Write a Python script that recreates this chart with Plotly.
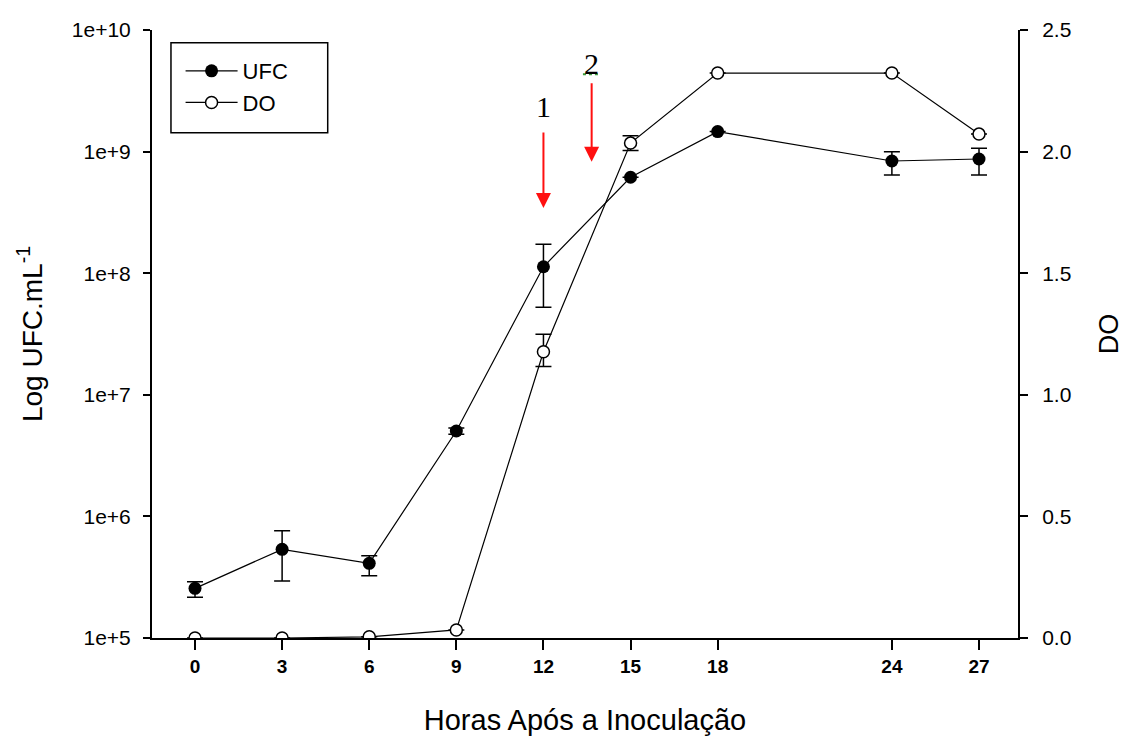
import plotly.graph_objects as go

# ---- data ----
hours = [0, 3, 6, 9, 12, 15, 18, 24, 27]
x_tick_labels = ["0", "3", "6", "9", "12", "15", "18", "24", "27"]

ufc = [2.56e5, 5.36e5, 4.11e5, 5.04e6, 1.13e8, 6.15e8, 1.46e9, 8.37e8, 8.69e8]
ufc_err_plus = [0.34e5, 2.27e5, 0.64e5, 0.3e6, 0.60e8, 0.0, 0.0, 1.61e8, 1.96e8]
ufc_err_minus = [0.40e5, 2.42e5, 0.86e5, 0.3e6, 0.606e8, 0.0, 0.0, 1.95e8, 2.27e8]

do_vals = [0.0, 0.0, 0.005, 0.033, 1.177, 2.035, 2.323, 2.323, 2.072]
do_err_plus = [0.0, 0.0, 0.0, 0.0, 0.072, 0.03, 0.0, 0.0, 0.0]
do_err_minus = [0.0, 0.0, 0.0, 0.0, 0.061, 0.03, 0.0, 0.0, 0.0]

left_tickvals = [1e5, 1e6, 1e7, 1e8, 1e9, 1e10]
left_ticktext = ["1e+5", "1e+6", "1e+7", "1e+8", "1e+9", "1e+10"]
right_tickvals = [0.0, 0.5, 1.0, 1.5, 2.0, 2.5]
right_ticktext = ["0.0", "0.5", "1.0", "1.5", "2.0", "2.5"]

# arrows: (x hour, tip DO-scale, label DO-scale, label)
arrow_x = [12, 13.66]
arrow_tip = [1.768, 1.958]
arrow_label_y = [2.185, 2.363]
arrow_labels = ["1", "2"]
arrow_len_px = [77, 80]

SANS = "Liberation Sans, Arial, sans-serif"

fig = go.Figure()

fig.add_trace(go.Scatter(
    x=hours, y=ufc, name="UFC", mode="lines+markers",
    line=dict(color="black", width=1.2),
    marker=dict(symbol="circle", size=13, color="black"),
    error_y=dict(type="data", symmetric=False, array=ufc_err_plus,
                 arrayminus=ufc_err_minus, color="black", thickness=1.5, width=8),
    yaxis="y", legendgroup="a",
))

fig.add_trace(go.Scatter(
    x=hours, y=do_vals, name="DO", mode="lines+markers",
    line=dict(color="black", width=1.2),
    marker=dict(symbol="circle", size=12, color="white",
                line=dict(color="black", width=1.5)),
    error_y=dict(type="data", symmetric=False, array=do_err_plus,
                 arrayminus=do_err_minus, color="black", thickness=1.5, width=8),
    yaxis="y2", legendgroup="b",
))

annotations = []
for xv, tip, ly, lab, alen in zip(arrow_x, arrow_tip, arrow_label_y, arrow_labels, arrow_len_px):
    annotations.append(dict(
        x=xv, y=tip, xref="x", yref="y2", text="", showarrow=True,
        ax=0, ay=-alen, arrowhead=2, arrowsize=1.5, arrowwidth=2,
        arrowcolor="#ff1010", standoff=0,
    ))
    annotations.append(dict(
        x=xv, y=ly, xref="x", yref="y2", text=lab, showarrow=False,
        font=dict(family="Liberation Serif, Times New Roman, serif", size=30, color="black"),
    ))

shapes = [
    # legend frame
    dict(type="rect", xref="paper", yref="paper",
         x0=0.0219, x1=0.2029, y0=0.831, y1=0.979,
         line=dict(color="black", width=1.5), fillcolor="rgba(0,0,0,0)"),
    # green dotted underline under "2"
    dict(type="line", xref="x", yref="y2", x0=13.36, x1=13.94, y0=2.318, y1=2.318,
         line=dict(color="#3a9a3a", width=2, dash="dot")),
]

fig.update_layout(
    width=1124, height=736, autosize=False,
    margin=dict(l=152, r=106, t=30, b=98),
    paper_bgcolor="white", plot_bgcolor="white",
    font=dict(family=SANS, color="black"),
    showlegend=True,
    legend=dict(x=0.033, y=0.967, xanchor="left", yanchor="top",
                bgcolor="rgba(0,0,0,0)", borderwidth=0,
                font=dict(size=22, family=SANS, color="black"),
                itemwidth=52, traceorder="grouped", tracegroupgap=0),
    xaxis=dict(
        range=[-1.481, 28.343], tickvals=hours, ticktext=x_tick_labels,
        ticks="outside", ticklen=10, tickwidth=1.5, tickcolor="black",
        showline=True, linewidth=1.5, linecolor="black", mirror=False,
        showgrid=False, zeroline=False, automargin=False,
        tickfont=dict(family="Liberation Sans Narrow, Arial Narrow, Liberation Sans, Arial", size=19, color="black", weight="bold"),
        title=dict(text="Horas Após a Inoculação", font=dict(size=29, family=SANS), standoff=34),
    ),
    yaxis=dict(
        type="log", range=[5, 10], tickvals=left_tickvals, ticktext=left_ticktext,
        ticks="outside", ticklen=7, tickwidth=1.5, tickcolor="black",
        showline=True, linewidth=2, linecolor="black",
        showgrid=False, zeroline=False, ticklabelstandoff=8, automargin=False,
        tickfont=dict(size=21, family=SANS, color="black"),
        title=dict(text="Log UFC.mL<sup>-1</sup>", font=dict(size=28, family=SANS), standoff=21),
    ),
    yaxis2=dict(
        overlaying="y", side="right", range=[0, 2.5],
        tickvals=right_tickvals, ticktext=right_ticktext,
        ticks="outside", ticklen=8, tickwidth=1.5, tickcolor="black",
        showline=True, linewidth=2, linecolor="black",
        showgrid=False, zeroline=False, ticklabelstandoff=10, automargin=False,
        tickfont=dict(size=21, family=SANS, color="black"),
        title=dict(text="DO", font=dict(size=27, family=SANS), standoff=29),
    ),
    annotations=annotations,
    shapes=shapes,
)

fig.write_html("out.html")
